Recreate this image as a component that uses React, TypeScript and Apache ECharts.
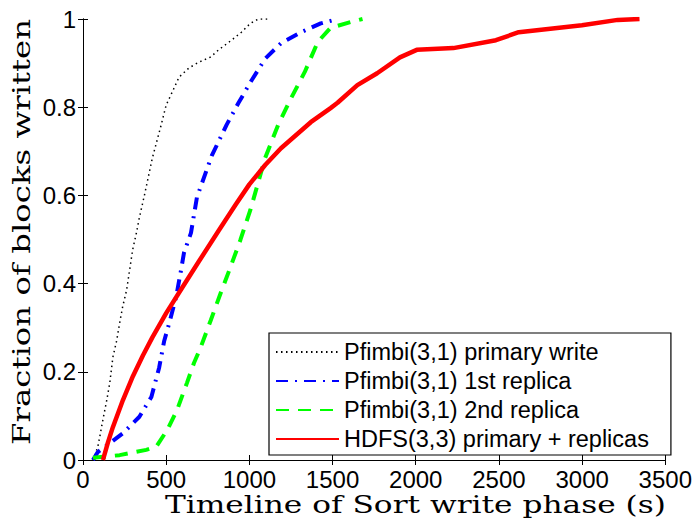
import React, { useEffect, useRef } from "react";
import * as echarts from "echarts";

// Timeline (s) and fraction of blocks written
const primaryT = [60, 89, 101, 119, 143, 161, 180, 202, 220, 238, 262, 280, 298, 321, 339, 369, 417, 470, 500, 536, 577, 637, 696, 768, 815, 893, 952, 1006, 1054, 1110];
const primaryY = [0, 0.03, 0.053, 0.09, 0.136, 0.175, 0.234, 0.27, 0.31, 0.347, 0.385, 0.43, 0.476, 0.515, 0.55, 0.6, 0.685, 0.76, 0.805, 0.834, 0.868, 0.889, 0.902, 0.914, 0.93, 0.952, 0.97, 0.99, 1.0, 1.0];

const rep1T = [60, 89, 161, 238, 339, 411, 458, 488, 518, 560, 589, 607, 649, 685, 774, 863, 935, 1012, 1095, 1190, 1310, 1429, 1530];
const rep1Y = [0, 0.018, 0.038, 0.06, 0.098, 0.143, 0.21, 0.27, 0.31, 0.37, 0.43, 0.47, 0.515, 0.596, 0.69, 0.76, 0.81, 0.86, 0.91, 0.945, 0.97, 0.99, 1.0];

const rep2T = [60, 220, 380, 440, 506, 565, 625, 667, 708, 768, 827, 887, 946, 1006, 1095, 1173, 1250, 1333, 1411, 1488, 1607, 1680];
const rep2Y = [0.005, 0.011, 0.023, 0.03, 0.068, 0.113, 0.175, 0.22, 0.256, 0.317, 0.378, 0.438, 0.499, 0.567, 0.685, 0.76, 0.82, 0.88, 0.948, 0.98, 0.993, 1.0];

const hdfsT = [120, 150, 180, 240, 300, 360, 417, 500, 595, 696, 815, 916, 1000, 1095, 1190, 1369, 1488, 1530, 1649, 1768, 1905, 2006, 2226, 2482, 2619, 2999, 3214, 3345];
const hdfsY = [0, 0.04, 0.075, 0.136, 0.19, 0.237, 0.278, 0.333, 0.39, 0.45, 0.52, 0.578, 0.625, 0.669, 0.707, 0.766, 0.798, 0.81, 0.85, 0.877, 0.913, 0.93, 0.934, 0.952, 0.97, 0.986, 0.998, 1.0];

const seriesNames = [
  "Pfimbi(3,1) primary write",
  "Pfimbi(3,1) 1st replica",
  "Pfimbi(3,1) 2nd replica",
  "HDFS(3,3) primary + replicas",
];

const xTitle = "Timeline of Sort write phase (s)";
const yTitle = "Fraction of blocks written";

const zip = (t: number[], y: number[]) => t.map((v, i) => [v, y[i]]);

export default function App() {
  const ref = useRef<HTMLDivElement>(null);
  useEffect(() => {
    const chart = echarts.init(ref.current!, null, { renderer: "svg" });
    const sans = "Liberation Sans";
    const serif = "DejaVu Serif";
    const axisCommon = {
      axisLine: { show: true, lineStyle: { color: "#000", width: 1 } },
      axisTick: { show: true, inside: true, length: 5, lineStyle: { color: "#000" } },
      splitLine: { show: false },
    };
    chart.setOption({
      animation: false,
      backgroundColor: "#fff",
      grid: { left: 83, right: 24, top: 19, bottom: 69, containLabel: false },
      xAxis: [
        {
          type: "value", min: 0, max: 3500, interval: 500, position: "bottom",
          ...axisCommon,
          axisLabel: {
            color: "#000", fontFamily: sans, fontSize: 24, margin: 7,
            formatter: (v: number) => String(v),
          },
        },
        {
          type: "value", min: 0, max: 3500, interval: 500, position: "top",
          ...axisCommon, axisLabel: { show: false },
        },
      ],
      yAxis: [
        {
          type: "value", min: 0, max: 1, interval: 0.2, position: "left",
          ...axisCommon,
          axisLabel: {
            color: "#000", fontFamily: sans, fontSize: 24, margin: 7,
            formatter: (v: number) => (v === 0 ? "0" : v === 1 ? "1" : v.toFixed(1)),
          },
        },
        {
          type: "value", min: 0, max: 1, interval: 0.2, position: "right",
          ...axisCommon, axisLabel: { show: false },
        },
      ],
      legend: {
        orient: "vertical",
        left: 269,
        top: 333,
        itemWidth: 63,
        itemHeight: 14,
        itemGap: 5,
        padding: [7, 22, 4, 6],
        borderColor: "#000",
        borderWidth: 1.2,
        backgroundColor: "#fff",
        itemStyle: { opacity: 0 },
        textStyle: { color: "#000", fontFamily: sans, fontSize: 23.5 },
        data: seriesNames,
      },
      graphic: [
        {
          type: "text", x: 165, y: 493, scaleX: 1.3,
          style: { text: xTitle, font: `24px "${serif}"`, fill: "#000" },
        },
        {
          type: "text", x: 10, y: 445, rotation: Math.PI / 2, scaleX: 1.35,
          style: { text: yTitle, font: `24px "${serif}"`, fill: "#000" },
        },
      ],
      series: [
        {
          name: seriesNames[0], type: "line", data: zip(primaryT, primaryY), symbol: "none",
          lineStyle: { color: "#000", width: 1.5, type: [1.5, 3.5] }, itemStyle: { color: "#000" },
        },
        {
          name: seriesNames[1], type: "line", data: zip(rep1T, rep1Y), symbol: "none",
          lineStyle: { color: "#0000ff", width: 4, type: [12, 7, 2, 7] }, itemStyle: { color: "#0000ff" },
        },
        {
          name: seriesNames[2], type: "line", data: zip(rep2T, rep2Y), symbol: "none",
          lineStyle: { color: "#00ff00", width: 4, type: [13, 9] }, itemStyle: { color: "#00ff00" },
        },
        {
          name: seriesNames[3], type: "line", data: zip(hdfsT, hdfsY), symbol: "none",
          lineStyle: { color: "#ff0000", width: 4.5 }, itemStyle: { color: "#ff0000" },
        },
      ],
    });
    return () => chart.dispose();
  }, []);
  return (
    <div
      ref={ref}
      style={{ position: "fixed", left: 0, top: 0, width: 695, height: 529 }}
    />
  );
}
